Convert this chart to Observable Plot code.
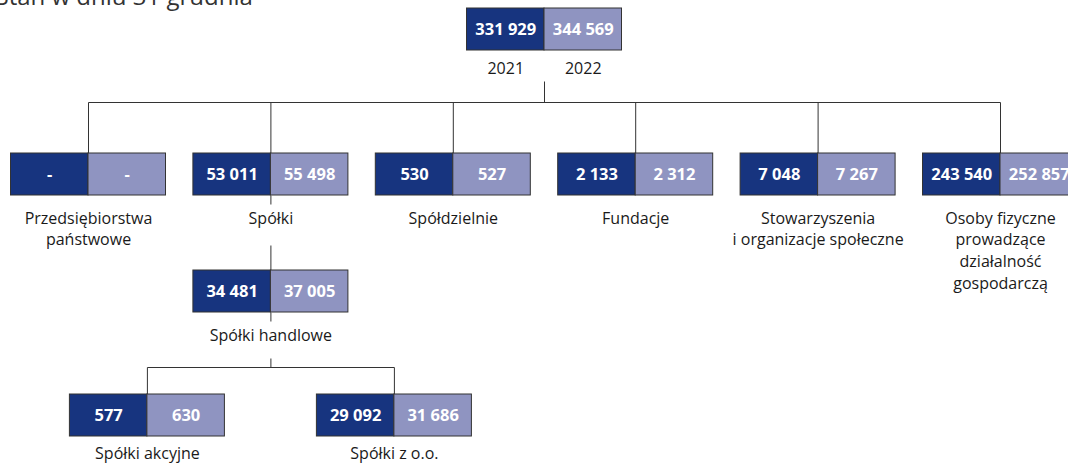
<!DOCTYPE html>
<html><head><meta charset="utf-8">
<script src="https://cdn.jsdelivr.net/npm/d3@7"></script>
<script src="https://cdn.jsdelivr.net/npm/@observablehq/plot@0.6"></script>
<style>
html,body{margin:0;padding:0;background:#fff;}
#chart{width:1068px;height:463px;overflow:hidden;}
</style></head><body><div id="chart"></div>
<script>
// ---- data ----
const title = "Stan w dniu 31 grudnia";
const years = ["2021", "2022"];
const names = ["Ogółem", "Przedsiębiorstwa\npaństwowe", "Spółki", "Spółdzielnie", "Fundacje",
  "Stowarzyszenia\ni organizacje społeczne", "Osoby fizyczne\nprowadzące\ndziałalność\ngospodarczą",
  "Spółki handlowe", "Spółki akcyjne", "Spółki z o.o."];
const parents = [null, "Ogółem", "Ogółem", "Ogółem", "Ogółem", "Ogółem", "Ogółem",
  "Spółki", "Spółki handlowe", "Spółki handlowe"];
const values2021 = [331929, null, 53011, 530, 2133, 7048, 243540, 34481, 577, 29092];
const values2022 = [344569, null, 55498, 527, 2312, 7267, 252857, 37005, 630, 31686];

// ---- layout ----
const W = 1068, H = 463;
const boxW = 155, boxH = 42;
const rowTop = [8, 153, 270, 394];
const firstLevelSpan = [88, 1000];
const pairOffset = 123.5;
const labelCapGap = [12, 13, 13, 7];
const stub = 9;
const labelBlock = [31, 50, 46, 0];
const busAbove = [51, 27, 27];
const darkBlue = "#17347f", lightBlue = "#8f94c1", lineColor = "#333";

const fmt = d3.formatLocale({decimal: ",", thousands: " ", grouping: [3], currency: ["", " zł"]}).format(",d");

const nodes = names.map((name, i) => ({name, parent: parents[i], vals: [values2021[i], values2022[i]]}));
nodes.forEach(n => { n.children = nodes.filter(c => c.parent === n.name); });
const root = nodes.find(n => n.parent == null);
function setDepth(n, d) { n.depth = d; n.top = rowTop[d]; n.bottom = rowTop[d] + boxH; n.children.forEach(c => setDepth(c, d + 1)); }
setDepth(root, 0);
const step = (firstLevelSpan[1] - firstLevelSpan[0]) / (root.children.length - 1);
root.children.forEach((c, i) => c.x = firstLevelSpan[0] + i * step);
root.x = d3.mean(root.children, c => c.x);
function placeKids(n) {
  if (n !== root) {
    const k = n.children.length;
    n.children.forEach((c, i) => c.x = k === 1 ? n.x : n.x + (i - (k - 1) / 2) * 2 * pairOffset);
  }
  n.children.forEach(placeKids);
}
placeKids(root);

const halves = [];
nodes.forEach(n => years.forEach((y, j) => halves.push({
  year: y, x1: n.x - boxW / 2 + j * boxW / 2, x2: n.x - boxW / 2 + (j + 1) * boxW / 2,
  y1: n.top, y2: n.bottom, v: n.vals[j], name: n.name, depth: n.depth
})));

const segs = [];
nodes.filter(n => n.children.length).forEach(n => {
  if (n.depth > 0) segs.push({x1: n.x, y1: n.bottom, x2: n.x, y2: n.bottom + stub});
  const from = n.bottom + labelBlock[n.depth];
  const childTop = rowTop[n.depth + 1];
  const bus = n.children.length > 1 ? childTop - busAbove[n.depth] : childTop;
  segs.push({x1: n.x, y1: from, x2: n.x, y2: bus});
  if (n.children.length > 1) {
    const xs = n.children.map(c => c.x);
    segs.push({x1: d3.min(xs), y1: bus, x2: d3.max(xs), y2: bus});
    n.children.forEach(c => segs.push({x1: c.x, y1: bus, x2: c.x, y2: childTop}));
  }
});

const labels = nodes.filter(n => n !== root);
const yearLabels = halves.filter(h => h.name === root.name);

const chart = Plot.plot({
  width: W, height: H, margin: 0,
  x: {type: "identity", axis: null},
  y: {type: "identity", axis: null},
  color: {domain: years, range: [darkBlue, lightBlue]},
  style: {fontFamily: "'Open Sans', sans-serif", background: "#fff"},
  marks: [
    Plot.text([title], {x: () => -5, y: () => 4, text: d => d, textAnchor: "start", lineAnchor: "bottom", fontSize: 24, fill: "#333"}),
    Plot.link(segs, {x1: "x1", y1: "y1", x2: "x2", y2: "y2", stroke: lineColor, strokeWidth: 1}),
    Plot.rect(halves, {x1: "x1", x2: "x2", y1: "y1", y2: "y2", fill: "year", stroke: lineColor, strokeWidth: 1}),
    Plot.text(halves, {x: d => (d.x1 + d.x2) / 2, y: d => (d.y1 + d.y2) / 2, text: d => d.v == null ? "-" : fmt(d.v),
      fill: "white", fontWeight: "bold", fontSize: 16.5, lineAnchor: "middle"}),
    Plot.text(yearLabels, {x: d => (d.x1 + d.x2) / 2, y: d => d.y2 + labelCapGap[0], text: "year",
      fill: "#1a1a1a", fontSize: 16, lineAnchor: "top"}),
    Plot.text(labels, {x: "x", y: d => d.bottom + labelCapGap[d.depth], text: "name",
      fill: "#1a1a1a", fontSize: 16, lineAnchor: "top", lineHeight: 1.35})
  ]
});
document.getElementById("chart").append(chart);
</script></body></html>
